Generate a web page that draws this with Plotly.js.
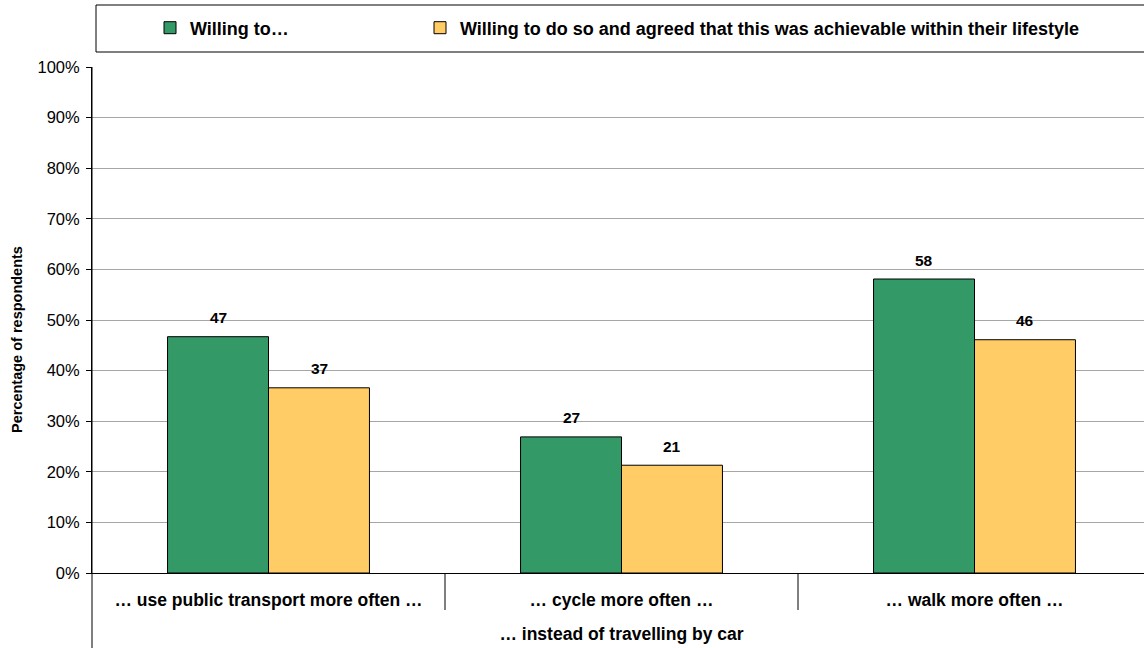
<!DOCTYPE html>
<html>
<head>
<meta charset="utf-8">
<script src="https://cdn.plot.ly/plotly-3.0.1.min.js"></script>
<style>
html,body{margin:0;padding:0;overflow:hidden;background:#fff;}
#chart{width:1151px;height:648px;}
</style>
</head>
<body>
<div id="chart"></div>
<script>
const categories = ["… use public transport more often …", "… cycle more often …", "… walk more often …"];
const seriesNames = ["Willing to…", "Willing to do so and agreed that this was achievable within their lifestyle"];
const willing = [46.7, 26.9, 58.1];
const achievable = [36.6, 21.3, 46.1];
const seriesColors = ["#339966", "#FFCC66"];
const yTickVals = [0, 10, 20, 30, 40, 50, 60, 70, 80, 90, 100];
const yTickText = ["0%", "10%", "20%", "30%", "40%", "50%", "60%", "70%", "80%", "90%", "100%"];
const xTitle = "… instead of travelling by car";
const yTitle = "Percentage of respondents";

const FONT = "Liberation Sans, Arial, sans-serif";
const seriesValues = [willing, achievable];
const legendIds = ["legend", "legend2"];

const traces = seriesValues.map((vals, i) => ({
  type: "bar",
  name: seriesNames[i],
  legend: legendIds[i],
  x: categories,
  y: vals,
  marker: {color: seriesColors[i], line: {color: "#000", width: 1}},
  hoverinfo: "skip"
}));

const barPx = 101;
const annotations = [];
seriesValues.forEach((vals, i) => {
  vals.forEach((v, j) => {
    annotations.push({
      x: categories[j], y: v, xref: "x", yref: "y",
      text: String(Math.round(v)),
      showarrow: false,
      xshift: (i === 0 ? -1 : 1) * barPx / 2,
      yshift: 19,
      font: {family: FONT, size: 15.5, color: "#000", weight: "bold"}
    });
  });
});
// y-axis title (placed slightly below centre, as in the original)
annotations.push({
  text: yTitle, xref: "paper", yref: "paper", x: 0, y: (573-340)/506,
  xanchor: "center", yanchor: "middle", xshift: -75, textangle: -90, showarrow: false,
  font: {family: FONT, size: 14.5, color: "#000", weight: "bold"}
});

const shapes = [
  {type: "rect", xref: "paper", yref: "paper", x0: 4/1059, x1: 1.02, y0: (573-52)/506, y1: (573-5)/506,
   line: {color: "#000", width: 1}, fillcolor: "rgba(0,0,0,0)"},
  {type: "line", xref: "paper", yref: "paper", x0: 0, x1: 0, y0: 1, y1: -75/506, line: {color: "#000", width: 1}},
  {type: "line", xref: "x", yref: "paper", x0: 0.5, x1: 0.5, y0: 0, y1: -37/506, line: {color: "#000", width: 1}},
  {type: "line", xref: "x", yref: "paper", x0: 1.5, x1: 1.5, y0: 0, y1: -37/506, line: {color: "#000", width: 1}}
];

const legendBase = {
  orientation: "h",
  xanchor: "left",
  y: (573-28)/506, yanchor: "middle",
  font: {family: FONT, size: 18, color: "#000", weight: "bold"},
  bgcolor: "rgba(0,0,0,0)",
  borderwidth: 0
};

const layout = {
  width: 1151, height: 648,
  margin: {l: 92, r: 0, t: 67, b: 75},
  paper_bgcolor: "#fff", plot_bgcolor: "#fff",
  font: {family: FONT, color: "#000"},
  barmode: "group",
  bargap: 0.428,
  bargroupgap: 0,
  showlegend: true,
  legend: Object.assign({}, legendBase, {x: (150-92)/1059}),
  legend2: Object.assign({}, legendBase, {x: (420-92)/1059}),
  xaxis: {
    type: "category",
    showline: true, linecolor: "#000", linewidth: 1,
    ticks: "", showgrid: false, zeroline: false,
    tickfont: {family: FONT, size: 17.5, color: "#000", weight: "bold"},
    ticklabelstandoff: 11,
    title: {text: xTitle, font: {family: FONT, size: 17.5, color: "#000", weight: "bold"}, standoff: 18},
    range: [-0.5, 2.5], fixedrange: true
  },
  yaxis: {
    range: [0, 100],
    tickvals: yTickVals, ticktext: yTickText,
    ticks: "outside", ticklen: 5, tickcolor: "#000",
    showline: true, linecolor: "#000", linewidth: 1,
    showgrid: true, gridcolor: "#a6a6a6", gridwidth: 1,
    zeroline: false,
    tickfont: {family: FONT, size: 16.5, color: "#000"},
    ticklabelstandoff: 3,
    fixedrange: true
  },
  annotations: annotations,
  shapes: shapes
};

Plotly.newPlot("chart", traces, layout, {displayModeBar: false, staticPlot: true});
</script>
</body>
</html>
